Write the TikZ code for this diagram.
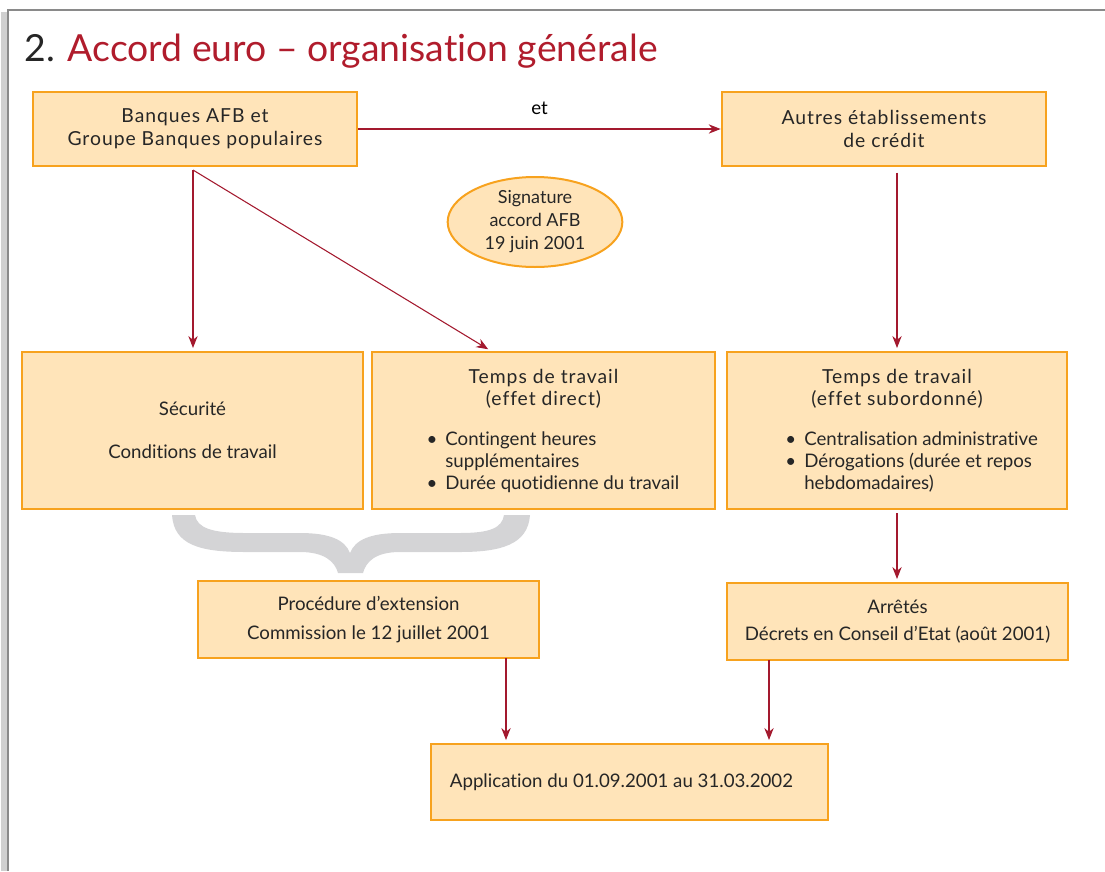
\documentclass[tikz,border=0pt]{standalone}
\usepackage{fontspec}
\setmainfont{Lato}[Ligatures=NoCommon]
\newfontfamily\headfont{Lato}[LetterSpace=5, Ligatures=NoCommon]
\usetikzlibrary{positioning, arrows.meta, shapes.geometric, calc}
\definecolor{boxFill}{HTML}{FFE4B9}
\definecolor{boxLine}{HTML}{F7A21E}
\definecolor{arrowRed}{HTML}{A3192E}
\definecolor{titleRed}{HTML}{B01C2C}
\definecolor{braceGrey}{HTML}{D4D4D6}
\definecolor{frameGrey}{HTML}{8A8A8A}

\begin{document}
\begin{tikzpicture}[x=0.75pt, y=-0.75pt,
    font=\fontsize{14}{16.5}\selectfont,
    box/.style={draw=boxLine, line width=2pt, fill=boxFill, align=center, inner sep=0pt, text=black!85},
    head/.style={font=\headfont\fontsize{14.5}{17.25}\selectfont},
    flow/.style={draw=arrowRed, line width=0.8pt, -{Stealth[length=9pt, width=7pt]}}]
  \useasboundingbox (0,0) rectangle (1105,871);
  % page frame
  \draw[frameGrey!40, line width=4pt] (4,871) -- (4,12);
  \draw[frameGrey, line width=1.5pt] (8,871) -- (8,10) -- (1105,10);

  \node[anchor=base west, font=\fontsize{28}{32}\selectfont] (title) at (20,61)
    {\textcolor{black!85}{2.} \textcolor{titleRed}{Accord euro -- organisation générale}};

  \node[box, head, minimum width=243pt, minimum height=55.5pt] (banques) at (195,129)
    {Banques AFB et\\Groupe Banques populaires};
  \node[box, head, minimum width=243pt, minimum height=55.5pt] (autres) at (884,129)
    {Autres établissements\\de crédit};
  \node[box, ellipse, line width=1.5pt, minimum width=131pt, minimum height=67.5pt,
        font=\fontsize{13.5}{17.25}\selectfont] (signature) at (535,222)
    {Signature\\accord AFB\\19 juin 2001};

  \node[box, minimum width=255.75pt, minimum height=117.75pt] (securite) at (192.5,430.5)
    {Sécurité\\[16pt]Conditions de travail};
  \node[box, minimum width=257.25pt, minimum height=117.75pt] (direct) at (543.5,430.5)
    {\headfont\fontsize{14.5}{16.5}\selectfont Temps de travail\\
     \headfont\fontsize{14.5}{16.5}\selectfont (effet direct)\\[15pt]
     \rmfamily\hspace*{14pt}\begin{tabular}{@{}l@{\hspace{6pt}}l@{}}
       \textbullet & Contingent heures\\
                   & supplémentaires\\
       \textbullet & Durée quotidienne du travail
     \end{tabular}\\[-4pt]\mbox{}};
  \node[box, minimum width=255pt, minimum height=117.75pt] (subordonne) at (897,430.5)
    {\headfont\fontsize{14.5}{16.5}\selectfont Temps de travail\\
     \headfont\fontsize{14.5}{16.5}\selectfont (effet subordonné)\\[15pt]
     \rmfamily\hspace*{22pt}\begin{tabular}{@{}l@{\hspace{6pt}}l@{}}
       \textbullet & Centralisation administrative\\
       \textbullet & Dérogations (durée et repos\\
                   & hebdomadaires)
     \end{tabular}\\[-4pt]\mbox{}};

  % accolade
  \fill[braceGrey] (172,515) -- (195,515)
    .. controls (197,528) and (212,533) .. (245,533) -- (300,533)
    .. controls (330,533) and (345,540) .. (350,553)
    .. controls (355,540) and (370,533) .. (400,533) -- (460,533)
    .. controls (490,533) and (502,528) .. (504,515) -- (530,515)
    .. controls (528,545) and (500,552) .. (460,552) -- (400,552)
    .. controls (375,552) and (366,562) .. (363,573) -- (338,573)
    .. controls (335,562) and (325,552) .. (300,552) -- (245,552)
    .. controls (200,552) and (174,545) .. (172,515) -- cycle;

  \node[box, minimum width=255.75pt, minimum height=57.75pt] (extension) at (368.5,619.5)
    {Procédure d'extension\\[5pt]Commission le 12 juillet 2001};
  \node[box, minimum width=255.75pt, minimum height=57.75pt] (arretes) at (897.5,621.5)
    {Arrêtés\\[4pt]Décrets en Conseil d'Etat (août 2001)};
  \node[box, minimum width=297.75pt, minimum height=57pt] (application) at (629.5,782)
    {Application du 01.09.2001 au 31.03.2002\hspace{12pt}};

  % connecteurs
  \draw[flow] (banques.east) -- node[above=10pt, inner sep=0pt] (et) {et} (autres.west);
  \coordinate (fork) at (193,170);
  \draw[flow, shorten >=2pt] (fork) -- (fork |- securite.north);
  \draw[flow, shorten >=2pt] (fork) -- ($(direct.north)+(-53,0)$);
  \draw[flow, shorten <=4pt, shorten >=2pt] (autres.south -| subordonne.north) -- (subordonne.north);
  \draw[flow, shorten <=2pt, shorten >=2pt] (subordonne.south) -- (subordonne.south |- arretes.north);
  \coordinate (extout) at (506,658);
  \coordinate (arrout) at (769,660);
  \draw[flow, shorten >=2pt] (extout) -- (extout |- application.north);
  \draw[flow, shorten >=2pt] (arrout) -- (arrout |- application.north);
\end{tikzpicture}
\end{document}
